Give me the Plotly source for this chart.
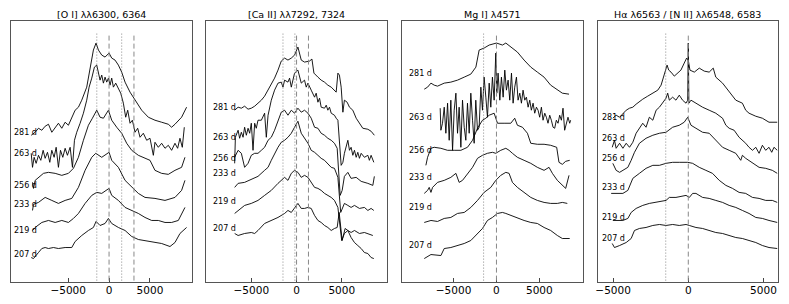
import plotly.graph_objects as go

EPOCHS = ["281 d", "263 d", "256 d", "233 d", "219 d", "207 d"]
TITLES = ["[O I] λλ6300, 6364", "[Ca II] λλ7292, 7324", "Mg I] λ4571",
          "Hα λ6563 / [N II] λλ6548, 6583"]
TICK_VALS = [-5000, 0, 5000]
TICK_TEXT = ["−5000", "0", "5000"]

# ---------------- [O I] panel: velocity (km/s), scaled flux + offset
OI_281_v = [-9520, -9035, -8630, -8220, -7815, -7410, -7000, -6590, -6190, -5780, -5370, -4970, -4560, -4150, -3745, -3340, -2730, -2320, -1915, -1590, -1300, -895, -490, 0, 325, 730, 1140, 1545, 1955, 2565, 3175, 3990, 4800, 5615, 6430, 7245, 7650, 8060, 8870, 9480]
OI_281_f = [147, 150, 154, 152, 156, 158, 150, 155, 159, 154, 160, 157, 165, 172, 175, 182, 195, 215, 232, 239, 232, 227, 225, 229, 224, 222, 217, 210, 200, 190, 182, 172, 165, 162, 160, 158, 155, 158, 165, 175]
OI_263_v = [-9520, -9360, -9160, -8915, -8630, -8345, -8060, -7815, -7530, -7245, -7000, -6715, -6470, -6190, -5940, -5655, -5370, -5090, -4760, -4475, -4230, -3950, -3540, -3135, -2730, -2440, -2115, -1790, -1505, -1300, -1100, -895, -690, -490, -285, -80, 120, 325, 530, 815, 1140, 1425, 1750, 2035, 2280, 2565, 2850, 3175, 3500, 3785, 4190, 4600, 5005, 5415, 5615, 6025, 6430, 6840, 7245, 7650, 8060, 8385, 8670, 8955, 9200]
OI_263_f = [129, 115, 125, 119, 127, 122, 132, 124, 130, 120, 132, 125, 135, 115, 132, 125, 134, 127, 135, 115, 142, 150, 159, 169, 182, 195, 204, 215, 217, 210, 202, 207, 199, 205, 200, 204, 197, 204, 195, 199, 194, 189, 179, 165, 172, 159, 162, 150, 154, 145, 149, 142, 144, 127, 140, 135, 139, 134, 137, 132, 139, 134, 144, 135, 155]
OI_256_v = [-9360, -9240, -9035, -8630, -8020, -7410, -6590, -5780, -4970, -4355, -3745, -3135, -2525, -2035, -1505, -1100, -690, -80, 325, 935, 1545, 2155, 2770, 3580, 4395, 5005, 5615, 6430, 7245, 8060, 8870, 9280]
OI_256_f = [100, 94, 102, 105, 109, 110, 109, 107, 109, 114, 125, 142, 157, 164, 172, 165, 164, 172, 162, 155, 149, 139, 132, 127, 124, 122, 112, 109, 108, 112, 115, 125]
OI_233_v = [-9360, -9240, -8630, -7815, -7000, -6190, -5370, -4560, -3745, -2930, -2115, -1630, -895, 0, 325, 1140, 1955, 2770, 3580, 4395, 5615, 6840, 8060, 8870, 9280]
OI_233_f = [72, 78, 80, 85, 82, 79, 82, 84, 95, 112, 125, 129, 125, 130, 122, 115, 102, 95, 89, 85, 84, 82, 85, 92, 102]
OI_219_v = [-9360, -9035, -8220, -7410, -6590, -5780, -4970, -4355, -3745, -2930, -2115, -1505, -895, 0, 325, 1140, 1955, 2770, 3580, 4395, 5210, 6025, 6840, 7650, 8470, 9280]
OI_219_f = [52, 55, 60, 62, 60, 62, 60, 64, 69, 79, 87, 90, 89, 94, 87, 82, 75, 72, 69, 65, 62, 62, 60, 60, 62, 75]
OI_207_v = [-9520, -9240, -8630, -8220, -7815, -7410, -6800, -6190, -5370, -4560, -4150, -3340, -2525, -1915, -1590, -1100, -490, -80, 325, 1140, 1955, 2770, 3580, 4395, 5615, 6430, 7450, 8060, 8670, 9480]
OI_207_f = [25, 24, 30, 34, 35, 34, 35, 34, 35, 35, 41, 47, 52, 55, 61, 57, 59, 64, 59, 55, 52, 46, 43, 42, 40, 39, 36, 40, 49, 55]

# ---------------- [Ca II] panel
CA_281_v = [-6840, -6460, -6100, -5740, -5360, -5000, -4630, -4260, -3890, -3530, -3150, -2790, -2430, -2050, -1690, -1320, -950, -580, -220, 150, 520, 880, 1430, 1700, 1920, 2360, 2720, 3090, 3460, 3830, 4190, 4380, 4570, 4740, 4930, 5120, 5290, 5590, 5850, 6220, 6590, 6950, 7320, 7880, 8240, 8600]
CA_281_f = [172, 175, 174, 176, 173, 174, 176, 179, 182, 186, 192, 199, 204, 212, 221, 224, 222, 224, 227, 235, 222, 220, 221, 223, 209, 205, 202, 200, 197, 195, 192, 190, 209, 207, 195, 170, 182, 180, 175, 172, 164, 159, 154, 153, 151, 147]
CA_263_v = [-6840, -6760, -6460, -6290, -6100, -5910, -5740, -5550, -5360, -5180, -5000, -4810, -4630, -4450, -4260, -3890, -3530, -3340, -3150, -2980, -2790, -2430, -2050, -1690, -1500, -1320, -950, -770, -580, -220, 150, 520, 880, 1070, 1260, 1620, 1990, 2170, 2360, 2540, 2720, 3090, 3280, 3460, 3640, 3830, 4190, 4380, 4570, 4930, 5120, 5290, 5480, 5670, 5850, 6030, 6220, 6400, 6590, 6770, 6950, 7140, 7500, 7880, 8050, 8240, 8540]
CA_263_f = [119, 145, 152, 144, 150, 145, 155, 147, 154, 149, 159, 132, 159, 154, 162, 162, 169, 145, 167, 175, 182, 192, 199, 200, 195, 202, 200, 204, 195, 209, 212, 199, 202, 195, 199, 192, 185, 189, 180, 184, 175, 174, 177, 172, 175, 169, 167, 164, 162, 117, 120, 129, 135, 142, 132, 135, 127, 132, 125, 130, 124, 129, 125, 127, 122, 127, 120]
CA_256_v = [-6840, -6460, -6100, -5740, -5360, -5000, -4630, -4260, -3890, -3530, -3150, -2790, -2430, -2050, -1690, -1320, -950, -580, -220, 150, 520, 880, 1260, 1620, 1990, 2360, 2720, 3090, 3460, 3830, 4190, 4490, 4820, 5040, 5290, 5670, 6030, 6590, 7140, 7880, 8430, 8600]
CA_256_f = [125, 132, 129, 115, 119, 127, 129, 129, 132, 135, 142, 145, 152, 162, 170, 172, 167, 172, 169, 174, 170, 172, 169, 164, 155, 154, 149, 147, 144, 142, 139, 134, 87, 92, 106, 110, 104, 105, 101, 99, 97, 106]
CA_233_v = [-6840, -6460, -5740, -5000, -4260, -3530, -3150, -2790, -2430, -2050, -1690, -1320, -950, -580, -220, 150, 520, 880, 1260, 1620, 1990, 2360, 2720, 3090, 3460, 3830, 4190, 4570, 4880, 5290, 5670, 6030, 6400, 6950, 7500, 7880, 8240, 8540]
CA_233_f = [95, 99, 100, 103, 106, 112, 115, 122, 129, 135, 140, 142, 145, 149, 155, 161, 149, 144, 139, 132, 130, 127, 124, 122, 119, 115, 114, 105, 70, 79, 77, 75, 77, 74, 75, 72, 74, 72]
CA_219_v = [-6840, -6460, -5740, -5000, -4260, -3530, -2790, -2050, -1320, -950, -580, -220, 150, 520, 880, 1260, 1620, 1990, 2360, 2720, 3090, 3460, 3830, 4190, 4570, 4990, 5290, 5670, 6030, 6400, 6950, 7500, 7880, 8430]
CA_219_f = [69, 72, 77, 79, 82, 87, 92, 99, 105, 102, 109, 112, 110, 105, 107, 105, 100, 95, 94, 92, 89, 87, 85, 82, 75, 42, 49, 52, 50, 52, 49, 50, 49, 47]
CA_207_v = [-6840, -6460, -5740, -5000, -4630, -4260, -3530, -2790, -2050, -1320, -950, -580, -220, 150, 520, 880, 1260, 1620, 1990, 2360, 2720, 3090, 3460, 3830, 4190, 4490, 4710, 5040, 5370, 5670, 6030, 6400, 6770, 7140, 7500, 7880, 8240, 8540]
CA_207_f = [49, 47, 49, 50, 49, 52, 59, 62, 65, 69, 72, 70, 75, 79, 74, 74, 75, 74, 67, 62, 60, 57, 55, 52, 54, 55, 70, 42, 54, 52, 45, 40, 37, 34, 30, 29, 25, 24]

# ---------------- Mg I] panel
MG_281_v = [-8420, -8030, -7640, -7260, -6870, -6090, -5320, -4540, -3760, -2990, -2400, -2020, -1440, -850, 0, 700, 1090, 1670, 2440, 3220, 4000, 4770, 5550, 6320, 7100, 7680, 8460]
MG_281_f = [193, 195, 199, 197, 196, 199, 200, 202, 205, 208, 215, 232, 234, 237, 239, 237, 239, 235, 230, 222, 215, 210, 205, 197, 192, 189, 188]
MG_263_v = [-6560, -6480, -6290, -6090, -5900, -5700, -5510, -5320, -5120, -4930, -4730, -4540, -4350, -4150, -3960, -3760, -3570, -3380, -3180, -2990, -2790, -2600, -2410, -2210, -2020, -1820, -1630, -1440, -1240, -1050, -850, -660, -470, -270, -80, 40, 190, 390, 580, 780, 970, 1160, 1360, 1550, 1750, 1940, 2130, 2330, 2520, 2720, 2910, 3100, 3300, 3490, 3690, 3880, 4070, 4270, 4460, 4660, 4850, 5040, 5240, 5430, 5630, 5820, 6010, 6210, 6400, 6600, 6790, 6980, 7180, 7370, 7570, 7760, 7950, 8150, 8340, 8540, 8650]
MG_263_f = [174, 152, 159, 175, 149, 179, 142, 182, 132, 172, 189, 149, 175, 135, 182, 155, 142, 179, 149, 189, 162, 139, 182, 152, 155, 195, 172, 205, 185, 165, 199, 175, 205, 182, 229, 189, 209, 182, 205, 185, 212, 192, 202, 182, 209, 179, 195, 205, 182, 189, 179, 192, 182, 185, 175, 182, 172, 179, 169, 175, 172, 165, 175, 162, 169, 165, 159, 167, 162, 155, 154, 162, 159, 167, 162, 174, 152, 159, 165, 159, 162]
MG_256_v = [-8230, -8030, -7640, -7260, -6480, -5700, -4930, -4150, -3380, -2790, -2210, -1630, -1240, -850, -270, 120, 890, 1670, 2130, 2440, 3030, 3610, 4000, 4770, 5550, 6320, 7020, 7290, 7680, 8070, 8540]
MG_256_f = [117, 125, 134, 135, 134, 132, 132, 132, 135, 142, 154, 162, 164, 167, 169, 159, 159, 159, 164, 157, 155, 149, 139, 138, 138, 137, 135, 120, 118, 121, 122]
MG_233_v = [-8420, -8030, -7840, -7640, -7450, -6870, -6090, -5320, -4730, -4350, -3960, -3380, -2790, -2210, -1630, -1050, -470, -80, 500, 1090, 1470, 1860, 2440, 3220, 4000, 4770, 5550, 6130, 6520, 7100, 7680, 8070, 8460]
MG_233_f = [89, 92, 95, 90, 95, 100, 102, 105, 109, 100, 102, 109, 115, 124, 127, 129, 130, 129, 132, 134, 132, 129, 125, 122, 119, 115, 112, 115, 109, 102, 97, 94, 107]
MG_219_v = [-8420, -7640, -6870, -6090, -5320, -4540, -3760, -2990, -2210, -1440, -660, -80, 500, 1090, 1470, 1860, 2440, 3220, 4000, 4770, 5550, 6320, 7100, 7680, 8260]
MG_219_f = [60, 62, 61, 64, 65, 69, 70, 75, 82, 90, 95, 102, 107, 110, 109, 100, 95, 90, 85, 82, 80, 79, 79, 80, 79]
MG_207_v = [-8420, -7640, -6480, -6090, -5320, -4540, -3760, -2990, -2210, -1630, -1050, -470, 120, 700, 1090, 1670, 2440, 3220, 4000, 4770, 5550, 6320, 7100, 7680, 8540]
MG_207_f = [24, 28, 27, 34, 35, 37, 39, 42, 49, 54, 62, 65, 69, 70, 69, 67, 65, 62, 60, 59, 55, 52, 47, 44, 44]

# ---------------- H-alpha / [N II] panel
HA_281_v = [-5020, -4800, -4570, -4350, -4130, -3910, -3690, -3470, -3250, -3030, -2700, -2360, -2030, -1810, -1660, -1520, -1410, -1300, -1150, -930, -710, -490, -270, -110, 0, 110, 400, 730, 1060, 1390, 1660, 1830, 2280, 2720, 3160, 3600, 3820, 4040, 4490, 4930, 5370, 5920]
HA_281_f = [164, 167, 165, 169, 172, 174, 175, 178, 181, 183, 186, 189, 192, 197, 205, 212, 217, 212, 210, 206, 209, 212, 219, 224, 222, 212, 210, 214, 211, 210, 214, 205, 199, 191, 182, 179, 172, 169, 166, 164, 160, 160]
HA_263_v = [-5060, -4910, -4800, -4570, -4350, -4130, -3910, -3690, -3470, -3250, -3030, -2810, -2590, -2360, -2140, -1920, -1700, -1480, -1370, -1260, -1040, -820, -600, -380, -150, -40, 0, 40, 180, 510, 950, 1390, 1830, 2280, 2500, 2720, 3050, 3380, 3600, 3820, 4040, 4270, 4490, 4710, 4930, 5150, 5370, 5550, 5700, 5920]
HA_263_f = [135, 142, 134, 139, 134, 139, 135, 140, 149, 154, 159, 155, 165, 162, 172, 175, 179, 184, 189, 182, 185, 182, 187, 182, 179, 182, 239, 179, 182, 179, 175, 172, 169, 164, 157, 154, 152, 145, 142, 139, 135, 132, 135, 129, 137, 132, 135, 130, 135, 132]
HA_256_v = [-5020, -4800, -4570, -4350, -4020, -3800, -3580, -3250, -2810, -2360, -1920, -1480, -1040, -600, -270, -40, 180, 510, 950, 1390, 1830, 2280, 2720, 3160, 3490, 3600, 3820, 4270, 4710, 5150, 5590, 5920]
HA_256_f = [119, 112, 110, 112, 115, 122, 130, 139, 144, 147, 149, 150, 155, 157, 160, 165, 157, 154, 150, 149, 142, 135, 132, 129, 122, 127, 124, 119, 115, 114, 112, 109]
HA_233_v = [-5130, -4800, -4350, -4020, -3690, -3250, -2810, -2360, -1920, -1480, -1040, -600, -40, 290, 730, 1170, 1610, 2060, 2500, 2940, 3380, 3820, 4270, 4710, 5150, 5590, 5920]
HA_233_f = [89, 89, 89, 92, 104, 109, 114, 117, 117, 119, 120, 120, 120, 119, 115, 112, 109, 102, 97, 94, 90, 89, 85, 84, 82, 82, 80]
HA_219_v = [-5020, -4350, -4020, -3800, -3470, -3030, -2590, -2140, -1700, -1480, -1260, -820, -150, 70, 290, 510, 950, 1390, 1830, 2280, 2720, 3160, 3600, 4040, 4490, 4930, 5370, 5920]
HA_219_f = [62, 62, 64, 70, 74, 77, 79, 80, 81, 82, 85, 85, 87, 85, 89, 89, 85, 84, 82, 80, 77, 75, 72, 69, 65, 64, 62, 60]
HA_207_v = [-5060, -4910, -4570, -4130, -3800, -3580, -3250, -2810, -2360, -1920, -1480, -1040, -600, -150, 70, 510, 950, 1390, 1830, 2280, 2720, 3160, 3600, 4040, 4490, 4930, 5370, 5920]
HA_207_f = [39, 35, 37, 40, 44, 52, 54, 55, 57, 58, 57, 58, 57, 58, 57, 55, 54, 52, 50, 49, 47, 45, 44, 42, 40, 37, 35, 34]

# label heights (scaled flux) for the epoch labels
OI_LABEL_F = [150, 129, 97, 78, 52, 28]
CA_LABEL_F = [175, 145, 124, 109, 81, 54]
MG_LABEL_F = [209, 165, 132, 105, 75, 37]
HA_LABEL_F = [165, 144, 124, 95, 65, 44]

# marker velocities (km/s): dotted and dashed reference lines
OI_DOTTED = [-1500, 1546]
OI_DASHED = [0, 3046]
CA_DOTTED = [-1500, -184]
CA_DASHED = [0, 1316]
MG_DOTTED = [-1500]
MG_DASHED = [0]
HA_DOTTED = [-1500]
HA_DASHED = [0]

# page layout (the page body adds an 8px margin, so the figure is 8px smaller)
PAGE_OFF = 8
FIG_W, FIG_H = 789 - PAGE_OFF, 304 - PAGE_OFF


def xdom(left_px, right_px):
    return [(left_px - PAGE_OFF) / FIG_W, (right_px - PAGE_OFF) / FIG_W]


def ypaper(py):
    return (304 - py) / FIG_H


panels = [
    dict(series=[(OI_281_v, OI_281_f), (OI_263_v, OI_263_f), (OI_256_v, OI_256_f),
                 (OI_233_v, OI_233_f), (OI_219_v, OI_219_f), (OI_207_v, OI_207_f)],
         labels=OI_LABEL_F, dotted=OI_DOTTED, dashed=OI_DASHED,
         xr=[-11990, 10170], dom=xdom(9, 190.7), lx=0.006),
    dict(series=[(CA_281_v, CA_281_f), (CA_263_v, CA_263_f), (CA_256_v, CA_256_f),
                 (CA_233_v, CA_233_f), (CA_219_v, CA_219_f), (CA_207_v, CA_207_f)],
         labels=CA_LABEL_F, dotted=CA_DOTTED, dashed=CA_DASHED,
         xr=[-10030, 10000], dom=xdom(204.3, 386), lx=0.03),
    dict(series=[(MG_281_v, MG_281_f), (MG_263_v, MG_263_f), (MG_256_v, MG_256_f),
                 (MG_233_v, MG_233_f), (MG_219_v, MG_219_f), (MG_207_v, MG_207_f)],
         labels=MG_LABEL_F, dotted=MG_DOTTED, dashed=MG_DASHED,
         xr=[-10980, 10070], dom=xdom(401.3, 582.3), lx=0.026),
    dict(series=[(HA_281_v, HA_281_f), (HA_263_v, HA_263_f), (HA_256_v, HA_256_f),
                 (HA_233_v, HA_233_f), (HA_219_v, HA_219_f), (HA_207_v, HA_207_f)],
         labels=HA_LABEL_F, dotted=HA_DOTTED, dashed=HA_DASHED,
         xr=[-6020, 5950], dom=xdom(597.3, 777.7), lx=0.01),
]

Y_RANGE = [0.3, 261.3]
Y_DOM = [ypaper(282.3), ypaper(20.7)]
LINE_LO, LINE_HI = 2, 249

fig = go.Figure()
annotations = []
shapes = []
FONT = "DejaVu Sans, Liberation Sans, sans-serif"

for i, p in enumerate(panels):
    n = "" if i == 0 else str(i + 1)
    xa, ya = "x" + n, "y" + n
    for v, f in p["series"]:
        fig.add_trace(go.Scatter(x=v, y=f, mode="lines", xaxis=xa, yaxis=ya,
                                 line=dict(color="black", width=0.9),
                                 showlegend=False, hoverinfo="skip"))
    for xv in p["dotted"]:
        shapes.append(dict(type="line", xref=xa, yref=ya, x0=xv, x1=xv,
                           y0=LINE_LO, y1=LINE_HI,
                           line=dict(color="#888888", width=1, dash="1px,2px")))
    for xv in p["dashed"]:
        shapes.append(dict(type="line", xref=xa, yref=ya, x0=xv, x1=xv,
                           y0=LINE_LO, y1=LINE_HI,
                           line=dict(color="#888888", width=1, dash="5px,3px")))
    for lab, yv in zip(EPOCHS, p["labels"]):
        annotations.append(dict(text=lab, xref=xa + " domain", yref=ya,
                                x=p["lx"], y=yv, xanchor="left", yanchor="middle",
                                showarrow=False,
                                font=dict(family=FONT, size=8, color="black")))
    annotations.append(dict(text=TITLES[i], xref="paper", yref="paper",
                            x=(p["dom"][0] + p["dom"][1]) / 2, y=ypaper(14),
                            xanchor="center", yanchor="middle", showarrow=False,
                            font=dict(family=FONT, size=9.5, color="black")))
    fig.update_layout(**{
        "xaxis" + n: dict(domain=p["dom"], range=p["xr"], anchor=ya,
                          tickvals=TICK_VALS, ticktext=TICK_TEXT,
                          ticks="inside", ticklen=4, tickcolor="#444",
                          ticklabelstandoff=-2,
                          showline=True, mirror=True, linecolor="#555", linewidth=1,
                          showgrid=False, zeroline=False,
                          tickfont=dict(family=FONT, size=10.5, color="black")),
        "yaxis" + n: dict(domain=Y_DOM, range=Y_RANGE, anchor=xa,
                          showticklabels=False, ticks="",
                          showline=True, mirror=True, linecolor="#555", linewidth=1,
                          showgrid=False, zeroline=False),
    })

fig.update_layout(width=FIG_W, height=FIG_H, margin=dict(l=0, r=0, t=0, b=0),
                  paper_bgcolor="white", plot_bgcolor="white",
                  annotations=annotations, shapes=shapes)
fig.write_html("out.html")
